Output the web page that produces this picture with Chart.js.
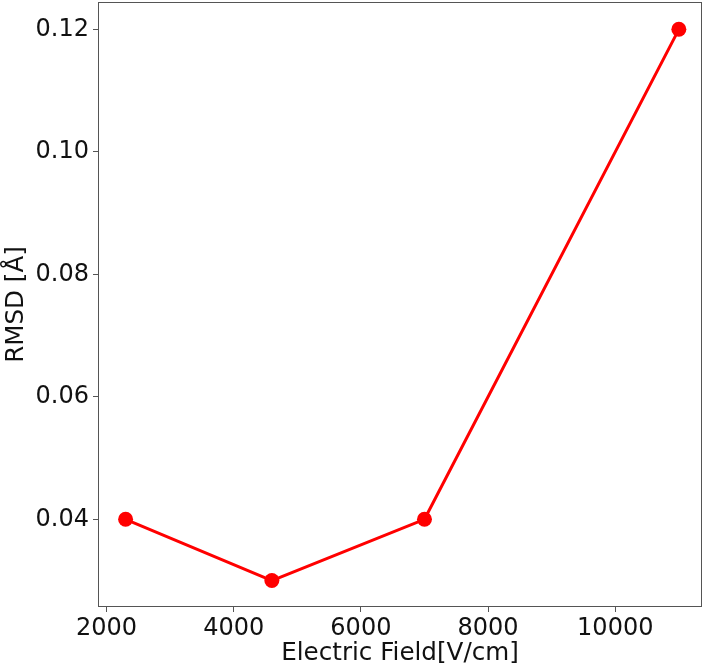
<!DOCTYPE html>
<html>
<head>
<meta charset="utf-8">
<script src="https://cdn.jsdelivr.net/npm/chart.js@4/dist/chart.umd.min.js"></script>
<style>
  html, body { margin: 0; padding: 0; background: #fff; }
  #wrap { width: 708px; height: 667px; }
</style>
</head>
<body>
<div id="wrap"><canvas id="c" width="708" height="667"></canvas></div>
<script>
const fieldValues = [2300, 4600, 7000, 11000];
const rmsdValues = [0.04, 0.03, 0.04, 0.12];
const xTickValues = [2000, 4000, 6000, 8000, 10000];
const yTickValues = [0.04, 0.06, 0.08, 0.10, 0.12];
const xLabel = 'Electric Field[V/cm]';
const yLabel = 'RMSD [Å]';

const points = fieldValues.map((x, i) => ({ x: x, y: rmsdValues[i] }));

const frame = {
  id: 'frame',
  afterDraw(chart) {
    const a = chart.chartArea, ctx = chart.ctx;
    ctx.save();
    ctx.strokeStyle = '#555';
    ctx.lineWidth = 1;
    ctx.strokeRect(a.left + 0.5, a.top + 0.5, a.right - a.left - 1, a.bottom - a.top - 1);
    ctx.restore();
  }
};

const FONT = 'DejaVu Sans';
new Chart(document.getElementById('c'), {
  type: 'scatter',
  data: {
    datasets: [{
      data: points,
      showLine: true,
      borderColor: '#ff0000',
      backgroundColor: '#ff0000',
      borderWidth: 3,
      pointRadius: 7.5,
      pointHoverRadius: 7.5,
      pointBorderWidth: 0,
      clip: false
    }]
  },
  options: {
    responsive: false,
    animation: false,
    layout: { autoPadding: false, padding: { top: 2, right: 6, left: 0, bottom: 0 } },
    plugins: { legend: { display: false }, tooltip: { enabled: false } },
    scales: {
      x: {
        type: 'linear',
        min: 1866, max: 11364,
        afterBuildTicks: s => { s.ticks = xTickValues.map(v => ({ value: v })); },
        afterFit: s => { s.height = 60; s.paddingLeft = 0; s.paddingRight = 0; },
        border: { display: false },
        grid: { drawOnChartArea: false, drawTicks: true, tickLength: 5, tickColor: '#555' },
        ticks: { color: '#111', font: { family: FONT, size: 24 }, padding: 2, maxRotation: 0,
                 callback: v => String(v) },
        title: { display: true, text: xLabel, color: '#111', font: { family: FONT, size: 24.6, lineHeight: 1.1 }, padding: { top: 0, bottom: 0 } }
      },
      y: {
        type: 'linear',
        min: 0.02568, max: 0.12446,
        afterBuildTicks: s => { s.ticks = yTickValues.map(v => ({ value: v })); },
        afterFit: s => { s.width = 98; s.paddingTop = 0; s.paddingBottom = 0; },
        border: { display: false },
        grid: { drawOnChartArea: false, drawTicks: true, tickLength: 5, tickColor: '#555' },
        ticks: { color: '#111', font: { family: FONT, size: 24 }, padding: 4,
                 callback: v => Number(v).toFixed(2) },
        title: { display: true, text: yLabel, color: '#111', font: { family: FONT, size: 24.6 }, padding: { top: 2, bottom: 0 } }
      }
    }
  },
  plugins: [frame]
});
</script>
</body>
</html>
